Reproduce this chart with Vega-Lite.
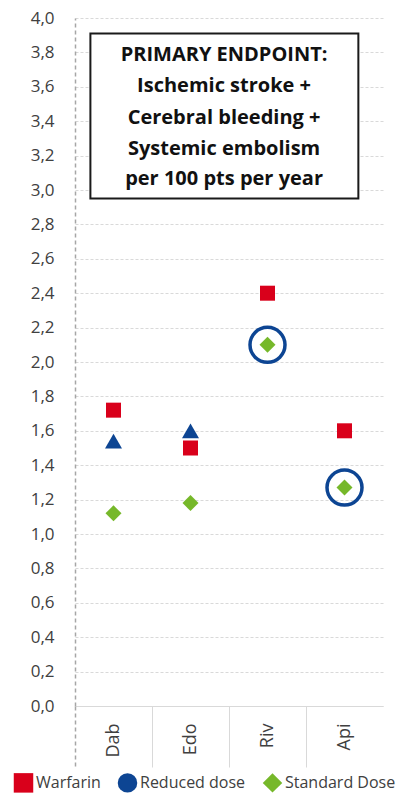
{
  "$schema": "https://vega.github.io/schema/vega-lite/v6.json",
  "autosize": {"type": "none"},
  "padding": {"left": 75, "top": 18, "right": 15, "bottom": 87},
  "width": 308,
  "height": 688,
  "background": "white",
  "config": {
    "view": {"stroke": null},
    "font": "Open Sans",
    "axis": {"labelFont": "Open Sans", "labelColor": "#404040", "labelOverlap": false},
    "axisY": {"labelOverlap": false},
    "legend": {"labelFont": "Open Sans"}
  },
  "datasets": {
    "points": [
      {"drug": "Dab", "series": "Warfarin", "value": 1.72},
      {"drug": "Edo", "series": "Warfarin", "value": 1.5},
      {"drug": "Riv", "series": "Warfarin", "value": 2.4},
      {"drug": "Api", "series": "Warfarin", "value": 1.6},
      {"drug": "Dab", "series": "Reduced dose", "value": 1.54},
      {"drug": "Edo", "series": "Reduced dose", "value": 1.6},
      {"drug": "Dab", "series": "Standard Dose", "value": 1.12},
      {"drug": "Edo", "series": "Standard Dose", "value": 1.18},
      {"drug": "Riv", "series": "Standard Dose", "value": 2.1},
      {"drug": "Api", "series": "Standard Dose", "value": 1.27}
    ],
    "highlight": [
      {"drug": "Riv", "value": 2.1},
      {"drug": "Api", "value": 1.27}
    ],
    "box": [
      {"x0": 0.05, "x1": 0.92, "value": 3.91, "value2": 2.95}
    ],
    "boxtext": [
      {"line": "PRIMARY ENDPOINT:", "xc": 0.484, "value": 3.785},
      {"line": "Ischemic stroke +", "xc": 0.484, "value": 3.605},
      {"line": "Cerebral bleeding +", "xc": 0.484, "value": 3.42},
      {"line": "Systemic embolism", "xc": 0.484, "value": 3.24},
      {"line": "per 100 pts per year", "xc": 0.484, "value": 3.065}
    ]
  },
  "encoding": {
    "y": {
      "field": "value", "type": "quantitative",
      "scale": {"domain": [0, 4], "nice": false},
      "axis": {
        "title": null, "tickCount": 20,
        "labelExpr": "replace(format(datum.value, '.1f'), '.', ',')",
        "labelFontSize": 17, "labelPadding": 21, "ticks": false, "labelOverlap": false, "labelSeparation": 0,
        "labelColor": "#404040",
        "domainColor": "#a6a6a6", "domainDash": [4, 3], "domainWidth": 1.5,
        "grid": true, "gridColor": "#d9d9d9", "gridDash": [3, 2], "gridWidth": 1
      }
    }
  },
  "layer": [
    {
      "layer": [
        {
          "data": {"name": "points"},
          "mark": {"type": "point", "filled": true, "opacity": 1},
          "encoding": {
            "x": {
              "field": "drug", "type": "nominal", "sort": ["Dab", "Edo", "Riv", "Api"],
              "scale": {"domain": ["Dab", "Edo", "Riv", "Api"], "paddingInner": 0, "paddingOuter": 0},
              "axis": {
                "title": null, "labelAngle": -90, "labelFontSize": 18, "labelColor": "#404040",
                "labelPadding": -44, "tickBand": "extent", "ticks": true, "tickSize": 61,
                "tickOpacity": {"condition": {"test": "datum.index === 1", "value": 0}, "value": 1},
                "tickColor": {"condition": {"test": "datum.index < 0", "value": "#a6a6a6"}, "value": "#d9d9d9"},
                "tickDash": {"condition": {"test": "datum.index < 0", "value": [4, 3]}, "value": []},
                "tickWidth": {"condition": {"test": "datum.index < 0", "value": 1.5}, "value": 1},
                "domainColor": "#d9d9d9", "domainWidth": 1.2, "grid": false
              }
            },
            "color": {
              "field": "series", "type": "nominal",
              "scale": {"domain": ["Warfarin", "Reduced dose", "Standard Dose"], "range": ["#d9001b", "#0d4593", "#76b82a"]},
              "legend": {
                "title": null, "orient": "none", "legendX": -62, "legendY": 754, "direction": "horizontal",
                "labelFontSize": 16, "labelColor": "#404040", "symbolSize": 380, "columnPadding": 16,
                "labelOffset": 2, "symbolOpacity": 1, "symbolType": "circle",
                "encode": {"symbols": {"update": {"shape": {"signal": "datum.value === 'Reduced dose' ? 'circle' : (datum.value === 'Warfarin' ? 'square' : 'diamond')"}}}}
              }
            },
            "shape": {
              "condition": [
                {"test": "datum.series === 'Warfarin'", "value": "square"},
                {"test": "datum.series === 'Reduced dose'", "value": "triangle-up"}
              ],
              "value": "diamond"
            },
            "size": {
              "condition": [
                {"test": "datum.series === 'Warfarin'", "value": 225},
                {"test": "datum.series === 'Reduced dose'", "value": 289}
              ],
              "value": 256
            }
          }
        },
        {
          "data": {"name": "highlight"},
          "mark": {"type": "point", "shape": "circle", "filled": false, "stroke": "#0d4593", "strokeWidth": 3.5, "size": 1225, "opacity": 1},
          "encoding": {
            "x": {"field": "drug", "type": "nominal", "sort": ["Dab", "Edo", "Riv", "Api"]}
          }
        }
      ]
    },
    {
      "layer": [
        {
          "data": {"name": "box"},
          "mark": {"type": "rect", "fill": "white", "stroke": "#1a1a1a", "strokeWidth": 2},
          "encoding": {
            "x": {"field": "x0", "type": "quantitative", "scale": {"domain": [0, 1]}, "axis": null},
            "x2": {"field": "x1"},
            "y2": {"field": "value2"}
          }
        },
        {
          "data": {"name": "boxtext"},
          "mark": {"type": "text", "font": "Open Sans", "fontWeight": "bold", "fontSize": 20, "color": "#111111", "align": "center", "baseline": "middle"},
          "encoding": {
            "x": {"field": "xc", "type": "quantitative", "scale": {"domain": [0, 1]}, "axis": null},
            "text": {"field": "line"}
          }
        }
      ]
    }
  ],
  "resolve": {"scale": {"x": "independent"}}
}
